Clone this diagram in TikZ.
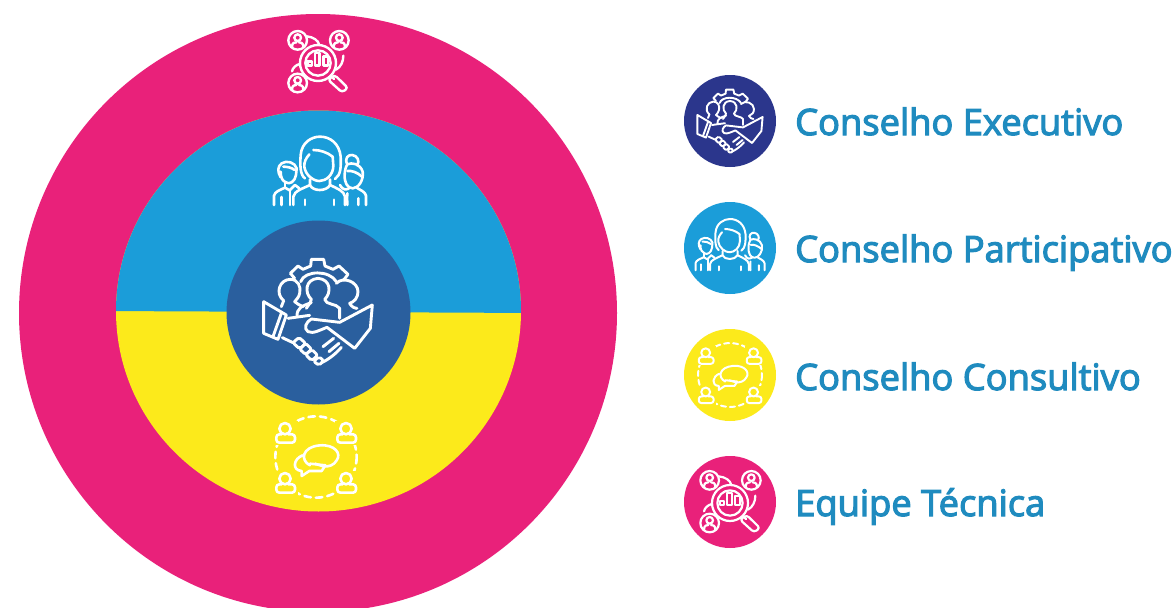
\documentclass[tikz,border=0pt]{standalone}
\usepackage{fontspec}
\newfontfamily\legendfont[FakeBold=3.2]{Open Sans}
\definecolor{cpink}{HTML}{E9217A}
\definecolor{cblue}{HTML}{1B9DD9}
\definecolor{cyell}{HTML}{FCEA1B}
\definecolor{cmid}{HTML}{2A5F9E}
\definecolor{cnavy}{HTML}{2B368C}
\definecolor{ctext}{HTML}{1F8BBF}
\tikzset{
  icon/.style={draw=white,line cap=round,line join=round,fill=none},
  legendlabel/.style={anchor=base west,inner sep=0pt,text=ctext,font=\legendfont\fontsize{36.3}{37}\selectfont},
}
\newcommand{\iconAnalysis}[4]{% cx cy scale lw
\begin{scope}[shift={(#1,#2)},scale=#3/3,shift={(-176,-130)},icon,line width=#4]
 \foreach \px/\py in {115/62,240/62,115/190}{
  \draw (\px,\py) circle[radius=28];
  \draw (\px,\py-8) circle[radius=10];
  \draw (\px-17,\py+20) .. controls (\px-17,\py+6) and (\px-8,\py+6) .. (\px-4,\py+6) (\px+17,\py+20) .. controls (\px+17,\py+6) and (\px+8,\py+6) .. (\px+4,\py+6);
 }
 \draw (176,130) circle[radius=54];
 \draw (176,130) circle[radius=38];
 \draw (145,137) -- (145,125) -- (158,125) -- (158,137) -- cycle;
 \draw (167,137) -- (167,100) -- (181,100) -- (181,137) -- cycle;
 \draw (192,137) -- (192,110) -- (206,110) -- (206,137) -- cycle;
 \draw (142,50) .. controls (162,52) and (177,62) .. (180,76);
 \draw (252,108) .. controls (252,125) and (245,142) .. (230,150);
 \draw (98,155) .. controls (100,145) and (110,135) .. (122,133);
 \draw (214,168) -- (224,178);
 \draw[rounded corners=#3*3pt] (226,166) -- (266,205) -- (248,218) -- (206,180) -- cycle;
\end{scope}}
\newcommand{\iconPeople}[4]{%
\begin{scope}[shift={(#1,#2)},scale=#3/3,shift={(-210,-135)},icon,line width=#4]
 \draw (165,160) .. controls (150,150) and (150,120) .. (152,90) .. controls (155,52) and (185,35) .. (210,35) .. controls (240,35) and (268,55) .. (272,95) .. controls (273,125) and (273,150) .. (255,162);
 \draw (178,88) .. controls (168,100) and (162,110) .. (163,125) .. controls (166,150) and (190,168) .. (208,168) .. controls (228,168) and (250,150) .. (250,122) -- (248,95);
 \draw (190,75) .. controls (210,75) and (232,82) .. (248,95);
 \draw (180,163) -- (180,180) .. controls (188,200) and (230,200) .. (240,180) -- (240,163);
 \draw (130,240) -- (130,215) .. controls (132,198) and (160,190) .. (180,180);
 \draw (240,180) .. controls (260,190) and (283,198) .. (285,215) -- (285,240);
 \draw (165,224) -- (165,240) (252,224) -- (252,240);
 \draw (92,157) .. controls (82,140) and (82,125) .. (95,115) .. controls (110,105) and (135,112) .. (140,130) -- (138,150) .. controls (135,170) and (118,180) .. (108,172) .. controls (98,168) and (92,160) .. (92,140);
 \draw (100,125) .. controls (112,125) and (125,128) .. (134,135);
 \draw (72,240) -- (72,212) .. controls (74,200) and (90,195) .. (105,188) -- (119,196) -- (135,180);
 \draw (105,172) -- (105,188);
 \draw (95,216) -- (95,240) (120,196) -- (120,240);
 \draw (135,180) -- (148,190);
 \draw (292,118) .. controls (282,100) and (295,88) .. (307,90) .. controls (322,92) and (330,108) .. (322,120);
 \draw (292,118) .. controls (305,112) and (330,115) .. (338,140) .. controls (342,165) and (325,190) .. (308,190) .. controls (292,190) and (283,172) .. (284,150) .. controls (284,135) and (288,125) .. (292,118);
 \draw (292,138) .. controls (305,136) and (322,142) .. (336,155);
 \draw (348,240) -- (348,212) .. controls (346,200) and (330,195) .. (320,188);
 \draw (300,188) .. controls (290,195) and (280,198) .. (270,180);
 \draw (325,220) -- (325,240) (292,205) .. controls (290,215) and (292,225) .. (292,240);
\end{scope}}
\newcommand{\iconShake}[4]{%
\begin{scope}[shift={(#1,#2)},scale=#3/3,shift={(-235,-210)},icon,line width=#4]
 \draw (165,115) -- (152,100) -- (175,78) -- (190,88) -- (213,78) -- (215,58) -- (252,58) -- (256,78) -- (280,88) -- (298,78) -- (325,103) -- (312,120);
 \draw (183,125) .. controls (195,90) and (270,90) .. (290,125);
 \draw (200,205) .. controls (210,190) and (215,185) .. (215,178) .. controls (195,160) and (195,118) .. (235,115) .. controls (275,118) and (275,160) .. (255,178) .. controls (258,195) and (290,190) .. (300,205) -- (300,235);
 \draw (172,228) .. controls (172,205) and (185,198) .. (215,188);
 \draw (132,182) .. controls (105,160) and (120,118) .. (152,118) .. controls (175,118) and (185,140) .. (180,160) .. controls (178,172) and (170,178) .. (165,185) .. controls (172,192) and (180,195) .. (190,200);
 \draw (132,182) -- (125,200);
 \draw (290,130) .. controls (310,108) and (355,125) .. (355,155) .. controls (355,172) and (345,185) .. (330,190) .. controls (335,200) and (345,205) .. (352,205);
 \draw (72,185) -- (140,225) -- (115,298) -- (72,280) -- cycle;
 \draw (126,217) -- (100,290);
 \draw (398,195) -- (300,247) -- (215,237) .. controls (200,245) and (190,265) .. (205,275) .. controls (220,283) and (245,268) .. (262,262) -- (345,325) -- (392,265) -- cycle;
 \draw (145,235) -- (210,226);
 \draw (128,293) -- (160,308);
 \draw (245,368) .. controls (265,360) and (290,340) .. (305,322);
 \draw (250,320) -- (282,295) (268,335) -- (298,310);
 \draw[rounded corners=#3*2pt] (178,292) -- (198,310) -- (180,327) -- (160,308) -- cycle;
 \draw[rounded corners=#3*2pt] (198,310) -- (216,328) -- (198,344) -- (180,327) -- cycle;
 \draw[rounded corners=#3*2pt] (216,328) -- (234,346) -- (216,362) -- (198,344) -- cycle;
 \draw[rounded corners=#3*2pt] (238,350) -- (252,362) -- (238,376) -- (222,364) -- cycle;
\end{scope}}
\newcommand{\iconConsult}[4]{%
\begin{scope}[shift={(#1,#2)},scale=#3/3,shift={(-168,-140)},icon,line width=#4]
 \draw[dash pattern=on #3*6.5pt off #3*5pt] (168,140) circle[radius=122];
 \foreach \px/\py in {75/55,258/55,75/205,258/205}{
  \fill[draw=none,fill=cyell] (\px-34,\py-24) rectangle (\px+38,\py+48);
  \draw (\px,\py) circle[radius=17];
  \draw[rounded corners=#3*3pt] (\px-10,\py+17) -- (\px-26,\py+17) -- (\px-26,\py+42) -- (\px+30,\py+42) -- (\px+30,\py+17) -- (\px+10,\py+17);
 }
 \draw (150,165) .. controls (120,150) and (125,110) .. (180,105) .. controls (225,102) and (245,130) .. (230,150) .. controls (222,165) and (205,170) .. (190,168) -- (165,160);
 \draw (128,135) .. controls (100,145) and (95,180) .. (125,182) -- (125,197) -- (148,182) -- (185,182) -- (196,165) -- (150,160);
\end{scope}}
\begin{document}
\begin{tikzpicture}[x=1pt,y=-1pt]
 \useasboundingbox (0,0) rectangle (1176,608);
 \fill[white] (0,0) rectangle (1176,608);
 \fill[cpink] (318,313) circle[radius=299];
 \fill[cyell] (318.5,311) circle[x radius=202.5,y radius=200.5];
 \begin{scope}
  \clip (100,311) -- (540,313) -- (540,90) -- (100,90) -- cycle;
  \fill[cblue] (318.5,311) circle[x radius=202.5,y radius=200.5];
 \end{scope}
 \fill[cmid] (318.5,312.5) circle[radius=92];
 \iconAnalysis{318}{63}{1}{2.4pt}
 \iconPeople{320}{170}{1}{2.6pt}
 \iconShake{318}{310}{1}{2.9pt}
 \iconConsult{316}{457}{1}{2.6pt}

 \fill[cnavy] (730,121) circle[radius=46];
 \fill[cblue] (730,248) circle[radius=46];
 \fill[cyell] (730,375) circle[radius=46];
 \fill[cpink] (730,502) circle[radius=46];
 \iconShake{730}{120}{0.6}{1.9pt}
 \iconPeople{730}{244}{0.75}{2pt}
 \iconConsult{730}{375}{0.785}{2pt}
 \iconAnalysis{730}{503}{1}{2.2pt}

 \node[legendlabel] (l1) at (795,135) {Conselho Executivo};
 \node[legendlabel] (l2) at (795,262) {Conselho Participativo};
 \node[legendlabel] (l3) at (795,390) {Conselho Consultivo};
 \node[legendlabel] (l4) at (795,516) {Equipe Técnica};
\end{tikzpicture}
\end{document}
